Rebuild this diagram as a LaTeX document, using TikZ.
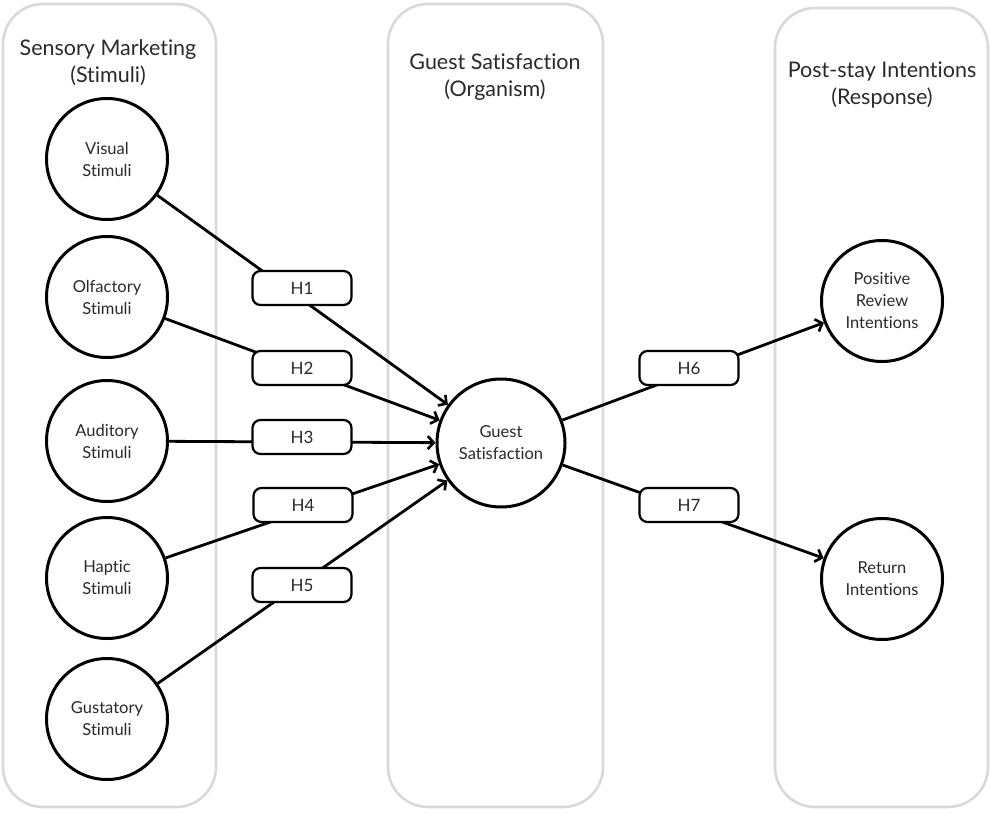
\documentclass[tikz,border=0pt]{standalone}
\usepackage{fontspec}
\setmainfont{Lato}[Ligatures={NoCommon}]
\usetikzlibrary{arrows.meta}
\definecolor{panelgray}{HTML}{D9D9D9}
\definecolor{txt}{HTML}{2A2A2A}
\begin{document}
\begin{tikzpicture}[x=1pt,y=-1pt,
  panel/.style={draw=panelgray, line width=2.6pt, rounded corners=40pt},
  hdr/.style={font=\fontsize{21.5}{27}\selectfont, align=center, text=txt},
  cnode/.style={circle, draw, line width=3pt, minimum size=121pt, inner sep=0pt, align=center, font=\fontsize{16.5}{22}\selectfont, text=txt, fill=white},
  hbox/.style={draw, rounded corners=8pt, line width=2.2pt, minimum width=99pt, minimum height=34pt, inner sep=0pt, fill=white, font=\fontsize{17}{20}\selectfont, text=txt},
  conn/.style={line width=2.8pt, -{Straight Barb[length=6pt,width=13pt,line width=2.6pt]}}]
\useasboundingbox (0,0) rectangle (990,813);
\fill[white] (0,0) rectangle (990,813);
% panels
\draw[panel] (3,4) rectangle (216,807);
\draw[panel] (388,4) rectangle (603,807);
\draw[panel] (775,8) rectangle (988,807);
% headers
\node[hdr] (h1) at (108,63) {Sensory Marketing\\(Stimuli)};
\node[hdr] (h2) at (495,77) {Guest Satisfaction\\(Organism)};
\node[hdr] (h3) at (882,85) {Post-stay Intentions\\(Response)};
% circles
\node[cnode] (vis) at (107,159) {Visual\\Stimuli};
\node[cnode] (olf) at (107,297) {Olfactory\\Stimuli};
\node[cnode] (aud) at (107,441) {Auditory\\Stimuli};
\node[cnode] (hap) at (107,578) {Haptic\\Stimuli};
\node[cnode] (gus) at (107,719) {Gustatory\\Stimuli};
\node[cnode, minimum size=128pt] (gs) at (501,443) {Guest\\Satisfaction};
\node[cnode] (pos) at (882,301) {Positive\\Review\\Intentions};
\node[cnode] (ret) at (882,579) {Return\\Intentions};
% connectors
\draw[conn] (vis) -- (gs);
\draw[conn] (olf) -- (gs);
\draw[conn] (aud) -- (gs);
\draw[conn] (hap) -- (gs);
\draw[conn] (gus) -- (gs);
\draw[conn] (gs) -- (pos);
\draw[conn] (gs) -- (ret);
% hypothesis boxes
\node[hbox] (b1) at (302,288) {H1};
\node[hbox] (b2) at (302,368) {H2};
\node[hbox] (b3) at (302,437) {H3};
\node[hbox] (b4) at (303,505) {H4};
\node[hbox] (b5) at (302,585) {H5};
\node[hbox] (b6) at (689,368) {H6};
\node[hbox] (b7) at (689,505) {H7};
\end{tikzpicture}
\end{document}
